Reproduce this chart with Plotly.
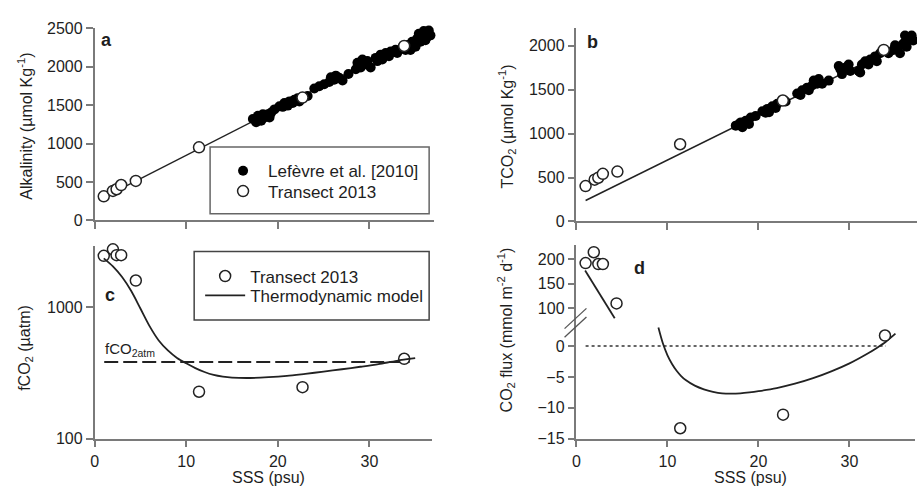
import plotly.graph_objects as go

W, H = 917, 497

# ---------------- data ----------------
# Transect 2013 salinities
sss_tr = [1.0, 2.0, 2.4, 2.9, 4.5, 11.4, 22.7, 33.8]
alk_tr = [314, 385, 406, 461, 515, 951, 1599, 2270]
tco2_tr = [403, 476, 498, 542, 568, 879, 1377, 1953]
fco2_tr = [2466, 2762, 2494, 2494, 1600, 228, 247, 406]
flux_sss_hi = [1.0, 1.9, 2.4, 2.9, 4.4]
flux_hi = [192, 214, 190, 190, 110]
flux_sss_lo = [11.4, 22.7, 33.9]
flux_lo = [-13.3, -11.1, 1.7]

# Lefevre et al. [2010]
lef_sss_a = [17.28, 17.83, 18.19, 18.55, 18.91, 19.28, 19.64, 18.37, 17.64, 19.10,
             20.18, 20.72, 21.27, 21.81, 21.09, 21.63, 22.17, 23.26, 20.54, 22.36,
             23.99, 24.53, 25.07, 25.62, 26.16, 26.70, 25.80, 26.34, 27.07, 27.72,
             28.70, 29.06, 29.42, 29.78, 29.24, 28.52, 30.14,
             30.69, 31.23, 31.78, 32.32, 32.86, 31.41, 32.14, 33.04, 30.87,
             34.13, 34.67, 35.22, 35.76, 36.12, 36.49, 36.30, 35.58, 35.04, 34.49,
             35.94, 36.67, 33.95, 35.40, 36.12]
lef_alk = [1319, 1361, 1298, 1340, 1382, 1403, 1445, 1382, 1277, 1340,
           1486, 1528, 1549, 1570, 1494, 1528, 1591, 1620, 1478, 1549,
           1717, 1746, 1771, 1801, 1830, 1855, 1863, 1884, 1822, 1905,
           2052, 1989, 2031, 2073, 2094, 1968, 1989,
           2115, 2157, 2178, 2199, 2220, 2094, 2136, 2178, 2073,
           2282, 2324, 2366, 2408, 2450, 2470, 2387, 2324, 2261, 2219,
           2465, 2408, 2219, 2429, 2345]
lef_sss_b = [17.52, 18.07, 18.62, 19.17, 19.71, 18.25, 18.98, 17.89,
             20.45, 21.00, 21.54, 22.09, 21.18, 21.91, 23.01, 20.81,
             24.28, 24.83, 25.37, 25.92, 26.47, 27.02, 26.10, 26.65, 27.75, 24.64, 25.56,
             29.03, 29.57, 30.12, 29.21, 29.94, 28.85,
             31.03, 31.40, 31.76, 32.31, 32.85, 33.40, 31.21, 32.12, 33.04,
             34.32, 34.86, 35.41, 35.96, 36.50, 36.87, 36.32, 35.59, 37.05, 35.05, 36.14]
lef_tco2 = [1091, 1128, 1146, 1183, 1201, 1073, 1110, 1110,
            1256, 1282, 1311, 1341, 1245, 1293, 1366, 1238,
            1458, 1495, 1524, 1549, 1568, 1568, 1604, 1623, 1604, 1440, 1495,
            1733, 1751, 1714, 1678, 1788, 1770,
            1714, 1788, 1824, 1843, 1880, 1916, 1696, 1788, 1824,
            1916, 1952, 1989, 2026, 2081, 2117, 1989, 1916, 2062, 2007, 2117]

# regression lines
reg_sss = [1.0, 36.7]
reg_alk = [300, 2470]
reg_tco2 = [238, 2065]

# thermodynamic model (fCO2)
mod_sss = [1.0, 2.0, 3.0, 4.0, 5.0, 6.0, 7.0, 8.0, 9.0, 10.0, 11.0, 12.0, 13.0, 14.0,
           15.0, 17.0, 19.0, 21.0, 23.0, 25.0, 27.0, 29.0, 31.0, 33.0, 35.0]
mod_fco2 = [2360, 2050, 1700, 1330, 980, 720, 560, 470, 412, 375, 345, 322, 306, 297,
            292, 290, 294, 301, 312, 324, 338, 353, 370, 392, 410]
atm_sss = [1.05, 34.4]
atm_fco2 = [383, 383]

# model CO2 flux
fmod_sss_hi = [0.95, 4.2]
fmod_hi = [177, 80]
fmod_sss_lo = [9.0, 9.5, 10.0, 10.5, 11.0, 11.5, 12.0, 13.0, 14.0, 15.0, 16.0, 17.0,
               18.0, 19.0, 20.0, 22.0, 24.0, 26.0, 28.0, 30.0, 32.0, 33.0, 34.0, 35.05]
fmod_lo = [3.0, 0.4, -1.5, -2.9, -4.0, -4.85, -5.5, -6.4, -7.0, -7.4, -7.65, -7.7,
           -7.65, -7.5, -7.3, -6.8, -6.1, -5.2, -4.1, -2.8, -1.2, -0.3, 0.7, 2.0]
zero_sss = [1.0, 34.0]
zero_val = [0, 0]

# ---------------- styling ----------------
FONT = "Liberation Sans, Arial, sans-serif"
AX = "#7a7a7a"
TXT = "#1e1e1e"


def px(x):
    return x / W


def py(y):
    return 1 - y / H


fig = go.Figure()

open_m = dict(symbol="circle", size=11, color="white", line=dict(color="#222", width=1.5))
fill_m = dict(symbol="circle", size=10, color="black", line=dict(width=0))

# panel a
fig.add_trace(go.Scatter(x=reg_sss, y=reg_alk, mode="lines", line=dict(color="#222", width=1.5),
                         xaxis="x", yaxis="y", showlegend=False))
fig.add_trace(go.Scatter(x=lef_sss_a, y=lef_alk, mode="markers", marker=fill_m, cliponaxis=False,
                         name="Lefèvre et al. [2010]", xaxis="x", yaxis="y", legend="legend"))
fig.add_trace(go.Scatter(x=sss_tr, y=alk_tr, mode="markers", marker=open_m, cliponaxis=False,
                         name="Transect 2013", xaxis="x", yaxis="y", legend="legend3"))
# panel b
fig.add_trace(go.Scatter(x=reg_sss, y=reg_tco2, mode="lines", line=dict(color="#222", width=1.5),
                         xaxis="x2", yaxis="y2", showlegend=False))
fig.add_trace(go.Scatter(x=lef_sss_b, y=lef_tco2, mode="markers", marker=fill_m, cliponaxis=False,
                         xaxis="x2", yaxis="y2", showlegend=False))
fig.add_trace(go.Scatter(x=sss_tr, y=tco2_tr, mode="markers", marker=open_m, cliponaxis=False,
                         xaxis="x2", yaxis="y2", showlegend=False))
# panel c
fig.add_trace(go.Scatter(x=atm_sss, y=atm_fco2, mode="lines",
                         line=dict(color="#222", width=2, dash="14px,5px"),
                         xaxis="x3", yaxis="y3", showlegend=False))
fig.add_trace(go.Scatter(x=sss_tr, y=fco2_tr, mode="markers", marker=open_m, cliponaxis=False,
                         name="Transect 2013", xaxis="x3", yaxis="y3", legend="legend2"))
fig.add_trace(go.Scatter(x=mod_sss, y=mod_fco2, mode="lines",
                         line=dict(color="#222", width=1.8, shape="spline", smoothing=0.8),
                         name="Thermodynamic model", xaxis="x3", yaxis="y3", legend="legend4"))
# panel d
fig.add_trace(go.Scatter(x=zero_sss, y=zero_val, mode="lines",
                         line=dict(color="#333", width=1.5, dash="dot"),
                         xaxis="x4", yaxis="y4", showlegend=False))
fig.add_trace(go.Scatter(x=fmod_sss_lo, y=fmod_lo, mode="lines",
                         line=dict(color="#222", width=1.8, shape="spline", smoothing=0.8),
                         xaxis="x4", yaxis="y4", showlegend=False))
fig.add_trace(go.Scatter(x=fmod_sss_hi, y=fmod_hi, mode="lines", line=dict(color="#222", width=1.8),
                         xaxis="x4", yaxis="y5", showlegend=False))
fig.add_trace(go.Scatter(x=flux_sss_lo, y=flux_lo, mode="markers", marker=open_m, cliponaxis=False,
                         xaxis="x4", yaxis="y4", showlegend=False))
fig.add_trace(go.Scatter(x=flux_sss_hi, y=flux_hi, mode="markers", marker=open_m, cliponaxis=False,
                         xaxis="x4", yaxis="y5", showlegend=False))

axcommon = dict(showline=True, linecolor=AX, linewidth=1.5, ticks="outside", ticklen=7,
                tickcolor=AX, tickwidth=1.5, showgrid=False, zeroline=False,
                tickfont=dict(family=FONT, size=16, color=TXT))


def leg(x, y):
    return dict(x=px(x), y=py(y), xanchor="left", yanchor="middle",
                bgcolor="rgba(0,0,0,0)", borderwidth=0, itemwidth=40,
                font=dict(family=FONT, size=17, color=TXT), tracegroupgap=0)


fig.update_layout(
    width=W, height=H, autosize=False,
    margin=dict(l=0, r=0, t=0, b=0),
    paper_bgcolor="white", plot_bgcolor="rgba(0,0,0,0)",
    font=dict(family=FONT, size=16, color=TXT),
    xaxis=dict(domain=[px(91), px(432)], range=[0, 37.07], anchor="y",
               tickvals=[0, 10, 20, 30], showticklabels=False, **axcommon),
    yaxis=dict(domain=[py(220), py(21)], range=[0, 2500], anchor="x",
               tickvals=[0, 500, 1000, 1500, 2000, 2500], **axcommon),
    xaxis2=dict(domain=[px(575), px(917)], range=[0, 37.46], anchor="y2",
                tickvals=[0, 10, 20, 30], showticklabels=False, **axcommon),
    yaxis2=dict(domain=[py(221), py(21)], range=[0, 2200], anchor="x2",
                tickvals=[0, 500, 1000, 1500, 2000], **axcommon),
    xaxis3=dict(domain=[px(91), px(430)], range=[0, 36.85], anchor="y3",
                tickvals=[0, 10, 20, 30], **axcommon),
    yaxis3=dict(domain=[py(446), py(246)], type="log", range=[2, 3.47], anchor="x3",
                tickvals=[100, 1000], ticktext=["100", "1000"], **axcommon),
    xaxis4=dict(domain=[px(575), px(915)], range=[0, 37.2], anchor="y4",
                tickvals=[0, 10, 20, 30], **axcommon),
    yaxis4=dict(domain=[py(446), py(328)], range=[-15, 3.44], anchor="x4",
                tickvals=[-15, -10, -5, 0], **axcommon),
    yaxis5=dict(domain=[py(328), py(245)], range=[66.7, 229.4], anchor="x4",
                tickvals=[100, 150, 200], **axcommon),
    legend=leg(215, 169),
    legend3=leg(215, 190),
    legend2=leg(197, 278),
    legend4=leg(197, 298),
)

shapes = [
    # legend boxes
    dict(type="rect", xref="paper", yref="paper", x0=px(207), x1=px(427), y0=py(213), y1=py(144),
         line=dict(color="#666", width=1.5)),
    dict(type="rect", xref="paper", yref="paper", x0=px(191), x1=px(427), y0=py(323), y1=py(252),
         line=dict(color="#444", width=1.5)),
    # axis break marks
    dict(type="line", xref="paper", yref="paper", x0=px(563), y0=py(332), x1=px(585), y1=py(311),
         line=dict(color="#555", width=1.3)),
    dict(type="line", xref="paper", yref="paper", x0=px(563), y0=py(341), x1=px(585), y1=py(320),
         line=dict(color="#555", width=1.3)),
]
fig.update_layout(shapes=shapes)

ann = []


def txt(x, y, text, size=16, angle=0, bold=False, xanchor="center"):
    t = f"<b>{text}</b>" if bold else text
    ann.append(dict(xref="paper", yref="paper", x=px(x), y=py(y), text=t, showarrow=False,
                    textangle=angle, xanchor=xanchor, yanchor="middle",
                    font=dict(family=FONT, size=size, color=TXT)))


txt(103, 33, "a", 18, bold=True)
txt(591, 35, "b", 18, bold=True)
txt(106, 297, "c", 18, bold=True)
txt(638, 269, "d", 18, bold=True)
txt(21, 122, "Alkalinity (µmol Kg<sup>-1</sup>)", 16, angle=-90)
txt(505, 123, "TCO<sub>2</sub> (µmol Kg<sup>-1</sup>)", 16, angle=-90)
txt(22, 352, "fCO<sub>2</sub> (µatm)", 16, angle=-90)
txt(504, 333, "CO<sub>2</sub> flux (mmol m<sup>-2</sup> d<sup>-1</sup>)", 16, angle=-90)
txt(266, 486, "SSS (psu)", 16)
txt(750, 486, "SSS (psu)", 16)
txt(99, 354, "fCO<sub>2atm</sub>", 15, xanchor="left")
fig.update_layout(annotations=ann)

fig.write_html("out.html")
